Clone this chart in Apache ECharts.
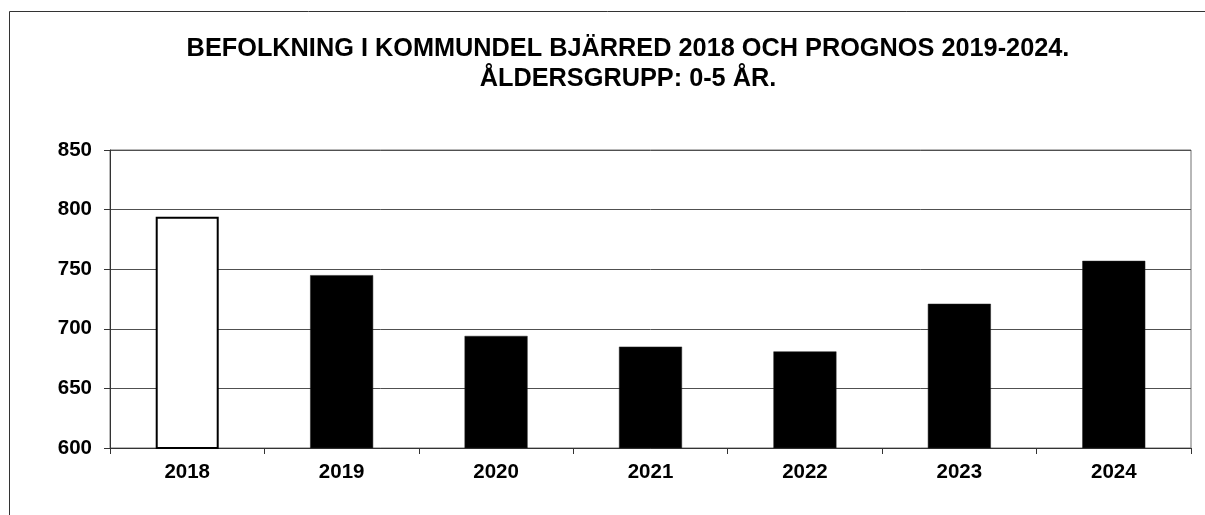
<!DOCTYPE html>
<html>
<head>
<meta charset="utf-8">
<script src="https://cdn.jsdelivr.net/npm/echarts@6/dist/echarts.min.js"></script>
<style>
  html, body { margin: 0; padding: 0; background: #fff; }
  #chart { width: 1205px; height: 515px; }
</style>
</head>
<body>
<div id="chart"></div>
<script>
// data
const years = ['2018', '2019', '2020', '2021', '2022', '2023', '2024'];
const population = [794, 745, 694, 685, 681, 721, 757];
const yTicks = { min: 600, max: 850, step: 50 };
const titleLines = ['BEFOLKNING I KOMMUNDEL BJÄRRED 2018 OCH PROGNOS 2019-2024.', 'ÅLDERSGRUPP: 0-5 ÅR.'];

const chart = echarts.init(document.getElementById('chart'), null, { renderer: 'canvas' });

// first year is the real count (white bar), rest is forecast (black)
const barData = population.map((v, i) => i === 0
  ? { value: v, itemStyle: { color: '#fff', borderColor: '#000', borderWidth: 2 } }
  : { value: v, itemStyle: { color: '#000', borderColor: '#222', borderWidth: 0.5 } });

chart.setOption({
  animation: false,
  backgroundColor: '#fff',
  textStyle: { fontFamily: 'Liberation Sans, Arial, sans-serif' },
  title: {
    text: titleLines.join('\n'),
    left: 628,
    top: 34,
    padding: 0,
    textAlign: 'center',
    textStyle: { fontSize: 25.3, fontWeight: 'bold', color: '#000', lineHeight: 30 }
  },
  graphic: [{
    type: 'rect',
    shape: { x: 9.5, y: 11.5, width: 1300, height: 600 },
    style: { fill: 'none', stroke: '#333', lineWidth: 1 },
    silent: true
  }],
  grid: {
    left: 110, top: 150, right: 14, bottom: 67,
    show: true, borderColor: '#707070', borderWidth: 1
  },
  xAxis: {
    type: 'category',
    data: years,
    axisLine: { lineStyle: { color: '#333', width: 1 } },
    axisTick: { show: true, length: 6, lineStyle: { color: '#333' } },
    axisLabel: { margin: 14, fontSize: 20.5, fontWeight: 'bold', color: '#000' }
  },
  yAxis: {
    type: 'value',
    min: yTicks.min,
    max: yTicks.max,
    interval: yTicks.step,
    axisLine: { show: true, lineStyle: { color: '#333', width: 1 } },
    axisTick: { show: true, length: 6, lineStyle: { color: '#333' } },
    axisLabel: { margin: 18, fontSize: 20.5, fontWeight: 'bold', color: '#000' },
    splitLine: { lineStyle: { color: '#505050', width: 1 } }
  },
  series: [{
    type: 'bar',
    data: barData,
    barWidth: 63
  }]
});
</script>
</body>
</html>
